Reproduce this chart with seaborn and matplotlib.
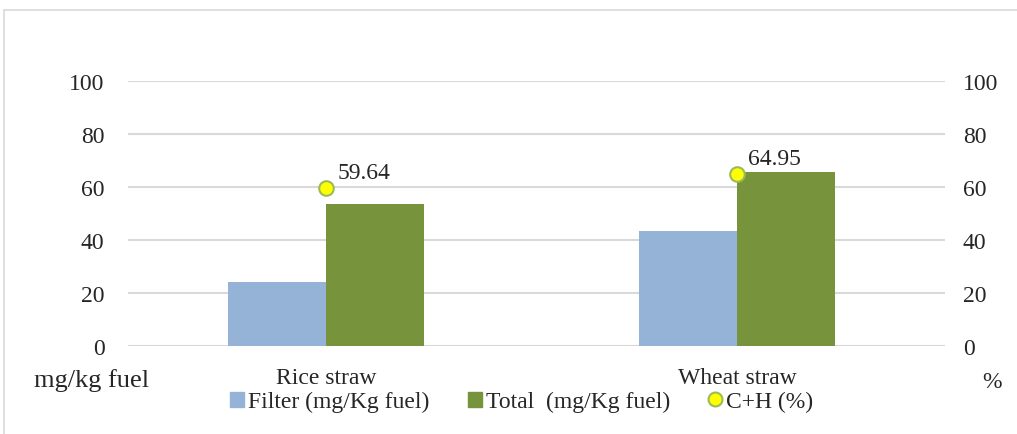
import numpy as np
import pandas as pd
import seaborn as sns
import matplotlib.pyplot as plt
from matplotlib.lines import Line2D
from matplotlib.patches import Patch

categories = ['Rice straw', 'Wheat straw']
filter_vals = [24.2, 43.5]
total_vals = [53.6, 65.7]
ch_vals = [59.64, 64.95]
series_names = ['Filter (mg/Kg fuel)', 'Total  (mg/Kg fuel)']
ch_name = 'C+H (%)'
yticks = [0, 20, 40, 60, 80, 100]

blue = '#95B3D7'
green = '#77933C'
grid_c = '#D9D9D9'

sns.set_theme(style='white')
plt.rcParams['font.family'] = ['Liberation Serif', 'DejaVu Serif']

df = pd.DataFrame({
    'cat': categories * 2,
    'series': [series_names[0]] * 2 + [series_names[1]] * 2,
    'value': filter_vals + total_vals,
})

fig = plt.figure(figsize=(10.17, 4.35), dpi=100)
ax = fig.add_axes([0.126, 0.202, 0.803, 0.609])

sns.barplot(data=df, x='cat', y='value', hue='series', order=categories,
            hue_order=series_names, palette=[blue, green], width=0.477,
            saturation=1, linewidth=0, legend=False, ax=ax)

ax.set_ylim(0, 100)
ax.set_yticks(yticks)
ax.yaxis.grid(True, color=grid_c, linewidth=1.5)
ax.set_axisbelow(True)
for s in ax.spines.values():
    s.set_visible(False)
ax.tick_params(axis='both', length=0)
ax.tick_params(axis='y', labelsize=17, pad=17)
ax.tick_params(axis='x', labelsize=17, pad=15)
ax.set_xlabel('')
ax.set_ylabel('')

ax2 = ax.twinx()
sns.scatterplot(x=np.arange(len(categories)), y=ch_vals, ax=ax2, s=110,
                color='#FFFF00', edgecolor='#9BBB59', linewidth=1.5,
                zorder=5, clip_on=False)
ax2.set_ylim(0, 100)
ax2.set_yticks(yticks)
for s in ax2.spines.values():
    s.set_visible(False)
ax2.tick_params(axis='y', length=0, labelsize=17, pad=13)
for i, v in enumerate(ch_vals):
    ax2.annotate(f'{v:.2f}', xy=(i, v), xytext=(8, 11), textcoords='offset points',
                 fontsize=17, ha='left', va='center')
# categories sit slightly left of centre in the original
ax.set_xlim(-0.482, len(categories) - 0.494)

fig.text(0.033, 0.125, 'mg/kg fuel', fontsize=19, ha='left', va='center')
fig.text(0.975, 0.12, '%', fontsize=17, ha='center', va='center')

handles = [Patch(color=blue, label=series_names[0]),
           Patch(color=green, label=series_names[1]),
           Line2D([], [], marker='o', linestyle='none', markersize=10,
                  markerfacecolor='#FFFF00', markeredgecolor='#9BBB59',
                  markeredgewidth=1.5, label=ch_name)]
fig.legend(handles=handles, loc='center', bbox_to_anchor=(0.513, 0.074), ncol=3,
           frameon=False, fontsize=17, handlelength=0.6, handleheight=0.6,
           handletextpad=0.17, columnspacing=1.6)

# outer chart border
fig.add_artist(Line2D([4 / 1017, 1], [1 - 11 / 435] * 2, color=grid_c, linewidth=1.2))
fig.add_artist(Line2D([4 / 1017] * 2, [0, 1 - 11 / 435], color=grid_c, linewidth=1.2))

fig.savefig('out.png', dpi=100)
